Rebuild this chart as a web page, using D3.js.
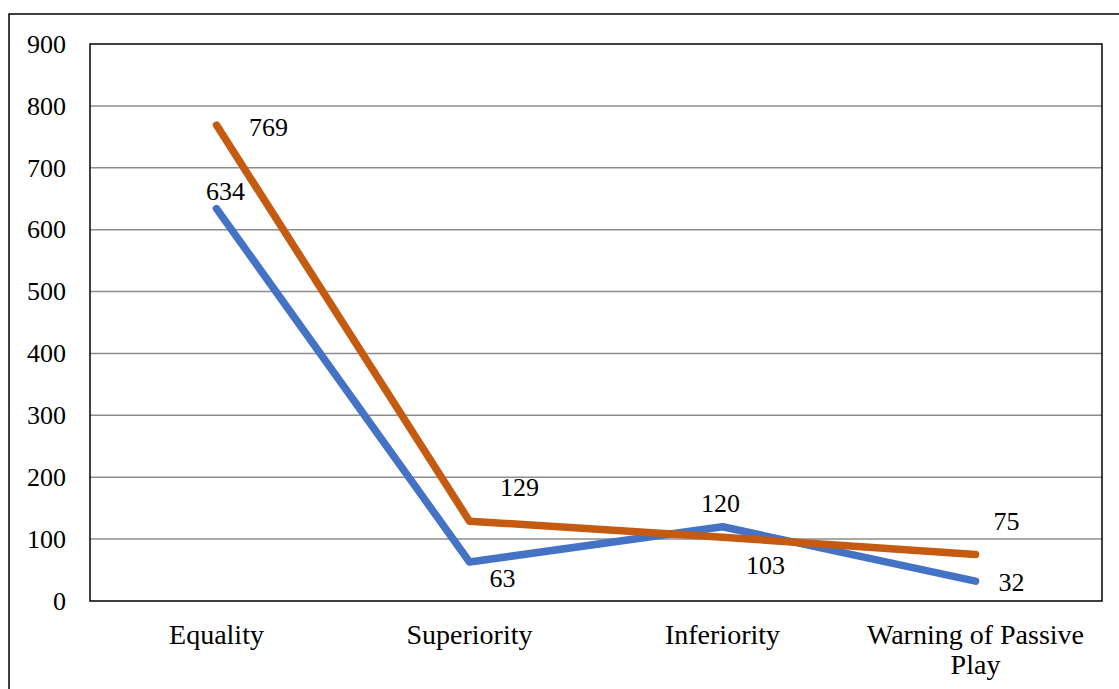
<!DOCTYPE html>
<html>
<head>
<meta charset="utf-8">
<script src="https://cdn.jsdelivr.net/npm/d3@7/dist/d3.min.js"></script>
<style>
  html, body { margin: 0; padding: 0; background: #fff; }
  svg { display: block; }
  text { font-family: "Liberation Serif", "DejaVu Serif", serif; fill: #000; }
</style>
</head>
<body>
<svg id="chart" width="1119" height="689"></svg>
<script>
// Categories and two series
const categories = ["Equality", "Superiority", "Inferiority", "Warning of Passive Play"];
const seriesBlue = [634, 63, 120, 32];
const seriesOrange = [769, 129, 103, 75];
const yTicks = [0, 100, 200, 300, 400, 500, 600, 700, 800, 900];

const W = 1119, H = 689;
const margin = { left: 90, top: 44, right: 17, bottom: 88 };
const plotW = W - margin.left - margin.right;
const plotH = H - margin.top - margin.bottom;

const svg = d3.select("#chart");

// Outer frame
svg.append("rect")
  .attr("x", 9).attr("y", 14)
  .attr("width", W + 10).attr("height", H + 10)
  .attr("fill", "none").attr("stroke", "#000").attr("stroke-width", 1.5);

const g = svg.append("g").attr("transform", `translate(${margin.left},${margin.top})`);

const x = d3.scaleBand().domain(categories).range([0, plotW]);
const y = d3.scaleLinear().domain([0, 900]).range([plotH, 0]);
const cx = c => x(c) + x.bandwidth() / 2;

// Horizontal gridlines
g.append("g")
  .selectAll("line")
  .data(yTicks.filter(t => t > 0 && t < 900))
  .join("line")
  .attr("x1", 0).attr("x2", plotW)
  .attr("y1", d => y(d)).attr("y2", d => y(d))
  .attr("stroke", "#8c8c8c").attr("stroke-width", 1.5);

// Plot border
g.append("rect")
  .attr("x", 0).attr("y", 0).attr("width", plotW).attr("height", plotH)
  .attr("fill", "none").attr("stroke", "#000").attr("stroke-width", 1.5);

// Y axis labels
const yAxis = d3.axisLeft(y).tickValues(yTicks).tickSize(0).tickPadding(24);
const yg = g.append("g").call(yAxis);
yg.select(".domain").remove();
yg.selectAll("text")
  .attr("font-size", 26)
  .attr("font-family", "Liberation Serif, serif");

// X axis labels
const xAxis = d3.axisBottom(x).tickSize(0).tickPadding(0);
const xg = g.append("g").attr("transform", `translate(0,${plotH})`).call(xAxis);
xg.select(".domain").remove();
xg.selectAll("text").remove();
const wrapped = {
  "Warning of Passive Play": ["Warning of Passive", "Play"]
};
xg.selectAll(".tick").each(function(d) {
  const lines = wrapped[d] || [d];
  const t = d3.select(this).append("text")
    .attr("text-anchor", "middle")
    .attr("font-size", 28)
    .attr("font-family", "Liberation Serif, serif")
    .attr("y", 43);
  lines.forEach((ln, i) => {
    t.append("tspan").attr("x", 0).attr("dy", i === 0 ? 0 : 30).text(ln);
  });
});

// Lines
const line = d3.line()
  .x((d, i) => cx(categories[i]))
  .y(d => y(d));

const series = [
  { name: "blue", values: seriesBlue, color: "#4472C4",
    offsets: [[9, -17], [33, 16], [-2, -23], [36, 1]] },
  { name: "orange", values: seriesOrange, color: "#C55A11",
    offsets: [[52, 2], [50, -34], [43, 28], [31, -33]] }
];

series.forEach(s => {
  g.append("path")
    .datum(s.values)
    .attr("d", line)
    .attr("fill", "none")
    .attr("stroke", s.color)
    .attr("stroke-width", 7.5)
    .attr("stroke-linecap", "round")
    .attr("stroke-linejoin", "round");
});

// Data labels
series.forEach(s => {
  g.append("g")
    .selectAll("text")
    .data(s.values)
    .join("text")
    .attr("x", (d, i) => cx(categories[i]) + s.offsets[i][0])
    .attr("y", (d, i) => y(d) + s.offsets[i][1])
    .attr("text-anchor", "middle")
    .attr("dominant-baseline", "central")
    .attr("font-size", 26)
    .text(d => d);
});
</script>
</body>
</html>
